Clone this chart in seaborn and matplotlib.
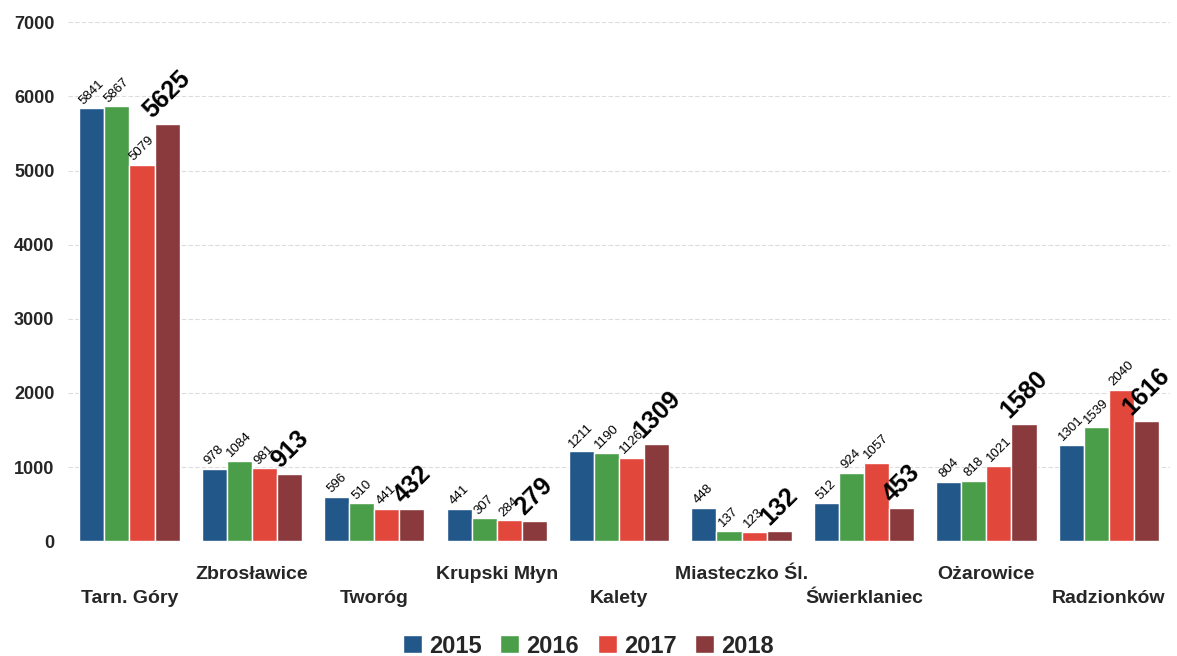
import pandas as pd
import matplotlib.pyplot as plt
import seaborn as sns

# values
towns = ["Tarn. Góry", "Zbrosławice", "Tworóg", "Krupski Młyn", "Kalety",
         "Miasteczko Śl.", "Świerklaniec", "Ożarowice", "Radzionków"]
years = ["2015", "2016", "2017", "2018"]
v2015 = [5841, 978, 596, 441, 1211, 448, 512, 804, 1301]
v2016 = [5867, 1084, 510, 307, 1190, 137, 924, 818, 1539]
v2017 = [5079, 981, 441, 284, 1126, 123, 1057, 1021, 2040]
v2018 = [5625, 913, 432, 279, 1309, 132, 453, 1580, 1616]
colors = ["#22578a", "#4a9e4a", "#e2473c", "#8a3a3c"]


def build_frame():
    rows = []
    for year, vals in zip(years, [v2015, v2016, v2017, v2018]):
        for town, v in zip(towns, vals):
            rows.append({"town": town, "year": year, "value": v})
    return pd.DataFrame(rows)


def plot_chart(df):
    sns.set_style("white")
    plt.rcParams["font.family"] = ["Liberation Sans", "DejaVu Sans"]

    fig = plt.figure(figsize=(11.77, 6.56), dpi=100)
    ax = fig.add_axes([0.058, 0.175, 0.936, 0.791])
    sns.barplot(data=df, x="town", y="value", hue="year", palette=colors,
                order=towns, hue_order=years, width=0.82, saturation=1,
                ax=ax, zorder=3)

    # value labels, rotated; the 2018 ones are big and bold
    for i, cont in enumerate(ax.containers):
        big = i == len(ax.containers) - 1
        for bar in cont:
            h = bar.get_height()
            ax.text(bar.get_x() + bar.get_width() / 2, h + 20, f"{h:.0f}",
                    rotation=45, ha="center", va="bottom",
                    fontsize=18 if big else 9.5,
                    fontweight="bold" if big else "normal", color="black")

    ax.set_ylim(0, 7000)
    ax.set_xlim(-0.5, len(towns) - 0.5)
    ax.set_yticks(range(0, 7001, 1000))
    ax.yaxis.grid(True, color="#dcdcdc", linestyle=(0, (4, 2)), linewidth=0.8, zorder=0)
    for s in ax.spines.values():
        s.set_visible(False)
    ax.set_xlabel("")
    ax.set_ylabel("")

    # staggered category labels
    labels = [("\n" + t) if i % 2 == 0 else t for i, t in enumerate(towns)]
    ax.set_xticks(range(len(towns)))
    ax.set_xticklabels(labels, fontsize=14, fontweight="bold", linespacing=1.55)
    ax.tick_params(axis="x", length=0, pad=18)
    ax.tick_params(axis="y", length=0, pad=10, labelsize=13)
    for t in ax.get_yticklabels():
        t.set_fontweight("bold")

    fig.legend(*ax.get_legend_handles_labels(), loc="center",
               bbox_to_anchor=(0.5, 0.015), ncol=4,
               frameon=False, handlelength=0.8, handleheight=0.8,
               handletextpad=0.3, columnspacing=0.8,
               prop={"size": 17, "weight": "bold"})
    ax.get_legend().remove()

    fig.savefig("out.png", dpi=100)


if __name__ == "__main__":
    df = build_frame()
    plot_chart(df)
